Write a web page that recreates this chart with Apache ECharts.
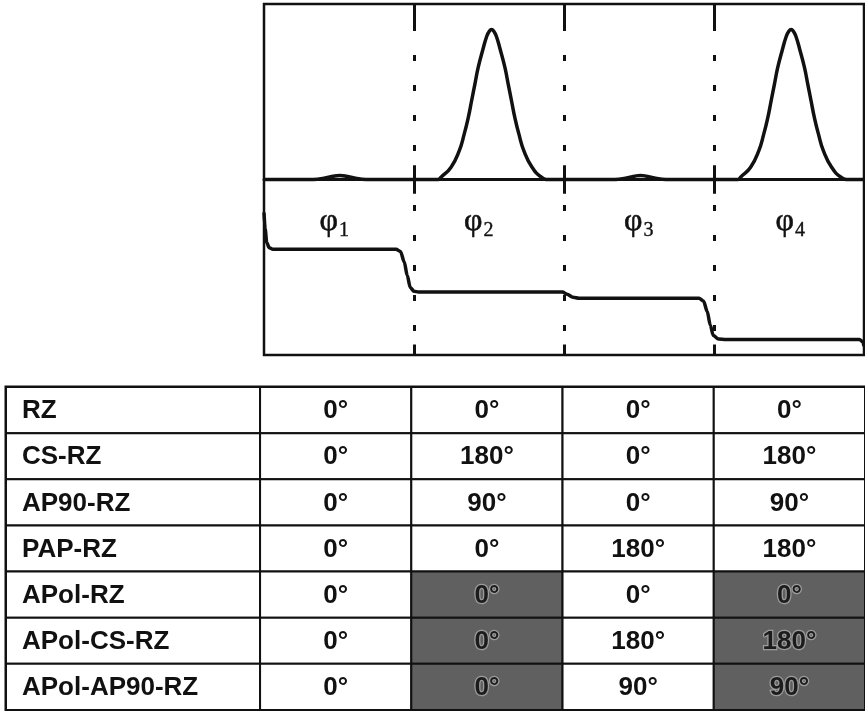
<!DOCTYPE html>
<html><head><meta charset="utf-8">
<script src="https://cdn.jsdelivr.net/npm/echarts@6/dist/echarts.min.js"></script>
<style>html,body{margin:0;padding:0;background:#fff}#c{width:865px;height:711px}</style>
</head><body><div id="c"></div>
<script>
// ---- data ----
const phaseLabels = ['1', '2', '3', '4'];
const slotBounds = [1, 2, 3];

// optical power trace (time in bit slots, normalised power)
const pulseTrace = [
  [0, 0], [0.33, 0], [0.40, 0.008], [0.46, 0.022], [0.505, 0.027], [0.55, 0.022], [0.61, 0.008], [0.68, 0], [1.16, 0],
  [1.18, 0.015], [1.247, 0.082], [1.302, 0.193], [1.335, 0.304], [1.362, 0.414], [1.384, 0.525], [1.406, 0.636],
  [1.428, 0.747], [1.457, 0.858], [1.485, 0.955], [1.503, 0.99], [1.517, 1.0], [1.531, 0.99], [1.549, 0.955], [1.577, 0.858], [1.606, 0.747],
  [1.628, 0.636], [1.650, 0.525], [1.672, 0.414], [1.699, 0.304], [1.732, 0.193], [1.787, 0.082], [1.85, 0.015], [1.90, 0],
  [2.34, 0], [2.41, 0.008], [2.47, 0.022], [2.51, 0.027], [2.55, 0.022], [2.61, 0.008], [2.68, 0], [3.16, 0],
  [3.177, 0.015], [3.244, 0.082], [3.299, 0.193], [3.332, 0.304], [3.359, 0.414], [3.381, 0.525], [3.403, 0.636],
  [3.425, 0.747], [3.454, 0.858], [3.482, 0.955], [3.500, 0.99], [3.514, 1.0], [3.528, 0.99], [3.546, 0.955], [3.574, 0.858], [3.603, 0.747],
  [3.625, 0.636], [3.647, 0.525], [3.669, 0.414], [3.696, 0.304], [3.729, 0.193], [3.784, 0.082], [3.847, 0.015], [3.90, 0],
  [4, 0]
];

// optical phase trace (time in bit slots, relative level)
const phaseTrace = [
  [0, -0.22], [0.008, -0.33], [0.018, -0.42], [0.035, -0.455], [0.06, -0.465], [0.88, -0.465], [0.91, -0.48],
  [0.935, -0.55], [0.955, -0.64], [0.975, -0.72], [1.0, -0.745], [1.03, -0.75], [1.99, -0.75], [2.02, -0.765],
  [2.06, -0.785], [2.10, -0.792], [2.90, -0.792], [2.93, -0.81], [2.955, -0.88], [2.975, -0.97], [2.995, -1.04],
  [3.03, -1.063], [3.08, -1.066], [3.97, -1.066], [3.99, -1.08], [4.0, -1.11]
];

// phase table
const schemes = ['RZ', 'CS-RZ', 'AP90-RZ', 'PAP-RZ', 'APol-RZ', 'APol-CS-RZ', 'APol-AP90-RZ'];
const rzPhases = [0, 0, 0, 0];
const csRzPhases = [0, 180, 0, 180];
const ap90RzPhases = [0, 90, 0, 90];
const papRzPhases = [0, 0, 180, 180];
const apolRzPhases = [0, 0, 0, 0];
const apolCsRzPhases = [0, 0, 180, 180];
const apolAp90RzPhases = [0, 0, 90, 90];
const alternatePolarised = [false, false, false, false, true, true, true];
const orthogonalSlots = [false, true, false, true];

// ---- build ----
const phaseRows = [rzPhases, csRzPhases, ap90RzPhases, papRzPhases, apolRzPhases, apolCsRzPhases, apolAp90RzPhases];
const colEdges = [0, 1.68, 2.68, 3.68, 4.68, 5.68];
const labelAnchorX = [0.467, 1.43, 2.497, 3.507];
const labelAnchorY = -0.3;
const cells = [];
schemes.forEach((name, r) => {
  cells.push({ col: 0, row: r, text: name, shaded: false });
  phaseRows[r].forEach((deg, k) => {
    cells.push({ col: k + 1, row: r, text: deg + '°', shaded: alternatePolarised[r] && orthogonalSlots[k] });
  });
});

const yTop = 1.17, yBot = -1.17;
const mlDash = [], mlSolid = [];
slotBounds.forEach(b => {
  mlDash.push([{ coord: [b, yTop] }, { coord: [b, yBot] }]);
  mlSolid.push([{ coord: [b, yTop] }, { coord: [b, 1.02] }]);
  mlSolid.push([{ coord: [b, 0.095] }, { coord: [b, -0.095] }]);
  mlSolid.push([{ coord: [b, yBot] }, { coord: [b, -1.10] }]);
});

const ink = '#111';
const serif = '"Liberation Serif", "DejaVu Serif", serif';
const chart = echarts.init(document.getElementById('c'), null, { renderer: 'canvas' });
chart.setOption({
  animation: false,
  backgroundColor: '#fff',
  grid: [
    { left: 264, top: 4, width: 600, height: 351, show: true, borderColor: ink, borderWidth: 2.5, containLabel: false },
    { left: 6, top: 387, width: 859, height: 323, show: true, borderColor: ink, borderWidth: 3, containLabel: false }
  ],
  xAxis: [
    { gridIndex: 0, type: 'value', min: 0, max: 4, axisLine: { show: true, onZero: true, lineStyle: { color: ink, width: 3 } },
      axisTick: { show: false }, axisLabel: { show: false }, splitLine: { show: false } },
    { gridIndex: 1, type: 'value', min: 0, max: 5.68, show: false }
  ],
  yAxis: [
    { gridIndex: 0, type: 'value', min: yBot, max: yTop, show: false, splitLine: { show: false } },
    { gridIndex: 1, type: 'category', data: schemes, inverse: true, show: false }
  ],
  series: [
    {
      type: 'line', xAxisIndex: 0, yAxisIndex: 0, data: pulseTrace, showSymbol: false, smooth: 0.5,
      lineStyle: { color: ink, width: 3.5 }, silent: true,
      markLine: { silent: true, symbol: ['none', 'none'], label: { show: false },
        lineStyle: { color: ink, width: 3, type: [6, 24], dashOffset: 9 }, data: mlDash }
    },
    {
      type: 'line', xAxisIndex: 0, yAxisIndex: 0, data: phaseTrace, showSymbol: false, smooth: 0.3, smoothMonotone: 'x',
      lineStyle: { color: ink, width: 3.5 }, silent: true,
      markLine: { silent: true, symbol: ['none', 'none'], label: { show: false },
        lineStyle: { color: ink, width: 3, type: 'solid' }, data: mlSolid }
    },
    {
      type: 'custom', xAxisIndex: 0, yAxisIndex: 0, silent: true,
      data: phaseLabels.map((s, i) => [labelAnchorX[i], labelAnchorY]),
      encode: { x: 0, y: 1 },
      renderItem: (params, api) => {
        const p = api.coord([api.value(0), api.value(1)]);
        return {
          type: 'group',
          children: [
            { type: 'text', x: p[0] + 4, y: p[1] - 3,
              style: { text: 'φ', fill: ink, font: '32px ' + serif, textAlign: 'right', textVerticalAlign: 'middle',
                stroke: ink, lineWidth: 0.6 } },
            { type: 'text', x: p[0] + 5, y: p[1] + 6,
              style: { text: phaseLabels[params.dataIndex], fill: ink, font: '20px ' + serif, textAlign: 'left', textVerticalAlign: 'middle',
                stroke: ink, lineWidth: 0.4 } }
          ]
        };
      }
    },
    {
      type: 'custom', xAxisIndex: 1, yAxisIndex: 1, silent: true,
      data: cells.map(c => [c.col, c.row]),
      encode: { x: 0, y: 1 },
      renderItem: (params, api) => {
        const cell = cells[params.dataIndex];
        const a = api.coord([colEdges[cell.col], cell.row]);
        const b = api.coord([colEdges[cell.col + 1], cell.row]);
        const h = api.size([0, 1])[1];
        const rect = { x: a[0], y: a[1] - h / 2, width: b[0] - a[0], height: h };
        return {
          type: 'group',
          children: [
            { type: 'rect', shape: rect, style: { fill: cell.shaded ? '#606060' : '#fff', stroke: ink, lineWidth: 2 } },
            { type: 'text', x: cell.col === 0 ? rect.x + 16 : rect.x + rect.width / 2, y: a[1] + 1,
              style: { text: cell.text, fill: cell.shaded ? '#1c1c1c' : ink,
                font: 'bold 26px "Liberation Sans", Arial, sans-serif',
                textAlign: cell.col === 0 ? 'left' : 'center', textVerticalAlign: 'middle',
                stroke: cell.shaded ? '#9c9c9c' : null, lineWidth: cell.shaded ? 2.5 : 0 } }
          ]
        };
      }
    }
  ]
});
</script></body></html>
